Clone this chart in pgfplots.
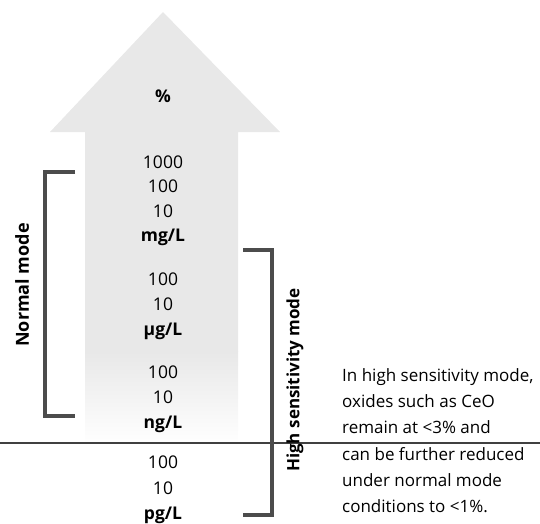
\documentclass[border=0pt]{standalone}
\usepackage{pgfplots}
\pgfplotsset{compat=1.18}
\usepackage{fontspec}
\setmainfont{Open Sans}
\begin{document}
\begin{tikzpicture}
\begin{axis}[scale only axis, width=540bp, height=524bp,
  xmin=0, xmax=540, ymin=0, ymax=524, y dir=reverse,
  hide axis, clip=false, anchor=south west, at={(0,0)}]
% arrow
\addplot[draw=none, fill=gray!18] coordinates {(163,12) (280,132) (238,132) (238,352) (85,352) (85,132) (50,132)} -- cycle;
\addplot[draw=none, top color=gray!18, bottom color=white] coordinates {(85,351.5) (238,351.5) (238,445) (85,445)} -- cycle;
% horizontal line
\addplot[black!75, line width=1.2bp] coordinates {(0,443) (540,443)};
% brackets
\addplot[black!70, line width=3.5bp] coordinates {(75,172) (45,172) (45,416) (75,416)};
\addplot[black!70, line width=3.5bp] coordinates {(243,250) (272,250) (272,515) (243,515)};
% column
\begin{scope}[every node/.style={anchor=base, font=\fontsize{17.5bp}{20bp}\selectfont}]
\node[font=\bfseries\fontsize{17.5bp}{20bp}\selectfont] at (axis cs:163,103) {\%};
\node at (axis cs:163,168) {1000};
\node at (axis cs:163,192) {100};
\node at (axis cs:163,217) {10};
\node[font=\bfseries\fontsize{17.5bp}{20bp}\selectfont] at (axis cs:163,241) {mg/L};
\node at (axis cs:163,285) {100};
\node at (axis cs:163,310) {10};
\node[font=\bfseries\fontsize{17.5bp}{20bp}\selectfont] at (axis cs:163,335) {µg/L};
\node at (axis cs:163,378) {100};
\node at (axis cs:163,403) {10};
\node[font=\bfseries\fontsize{17.5bp}{20bp}\selectfont] at (axis cs:163,428) {ng/L};
\node at (axis cs:163,468) {100};
\node at (axis cs:163,494) {10};
\node[font=\bfseries\fontsize{17.5bp}{20bp}\selectfont] at (axis cs:163,519) {pg/L};
\end{scope}
% rotated labels
\node[rotate=90, font=\bfseries\fontsize{18bp}{22bp}\selectfont] at (axis cs:22,285) {Normal mode};
\node[rotate=90, font=\bfseries\fontsize{17bp}{22bp}\selectfont] at (axis cs:295,380) {High sensitivity mode};
% note
\begin{scope}[every node/.style={anchor=base west, inner sep=0pt, font=\fontsize{17bp}{20bp}\selectfont}]
\node at (axis cs:342,381) {In high sensitivity mode,};
\node at (axis cs:342,407) {oxides such as CeO};
\node at (axis cs:342,433) {remain at <3\% and};
\node at (axis cs:342,460) {can be further reduced};
\node at (axis cs:342,486) {under normal mode};
\node at (axis cs:342,512) {conditions to <1\%.};
\end{scope}
\end{axis}
\pgfresetboundingbox
\useasboundingbox (0,0) rectangle (540bp,524bp);
\end{tikzpicture}
\end{document}
